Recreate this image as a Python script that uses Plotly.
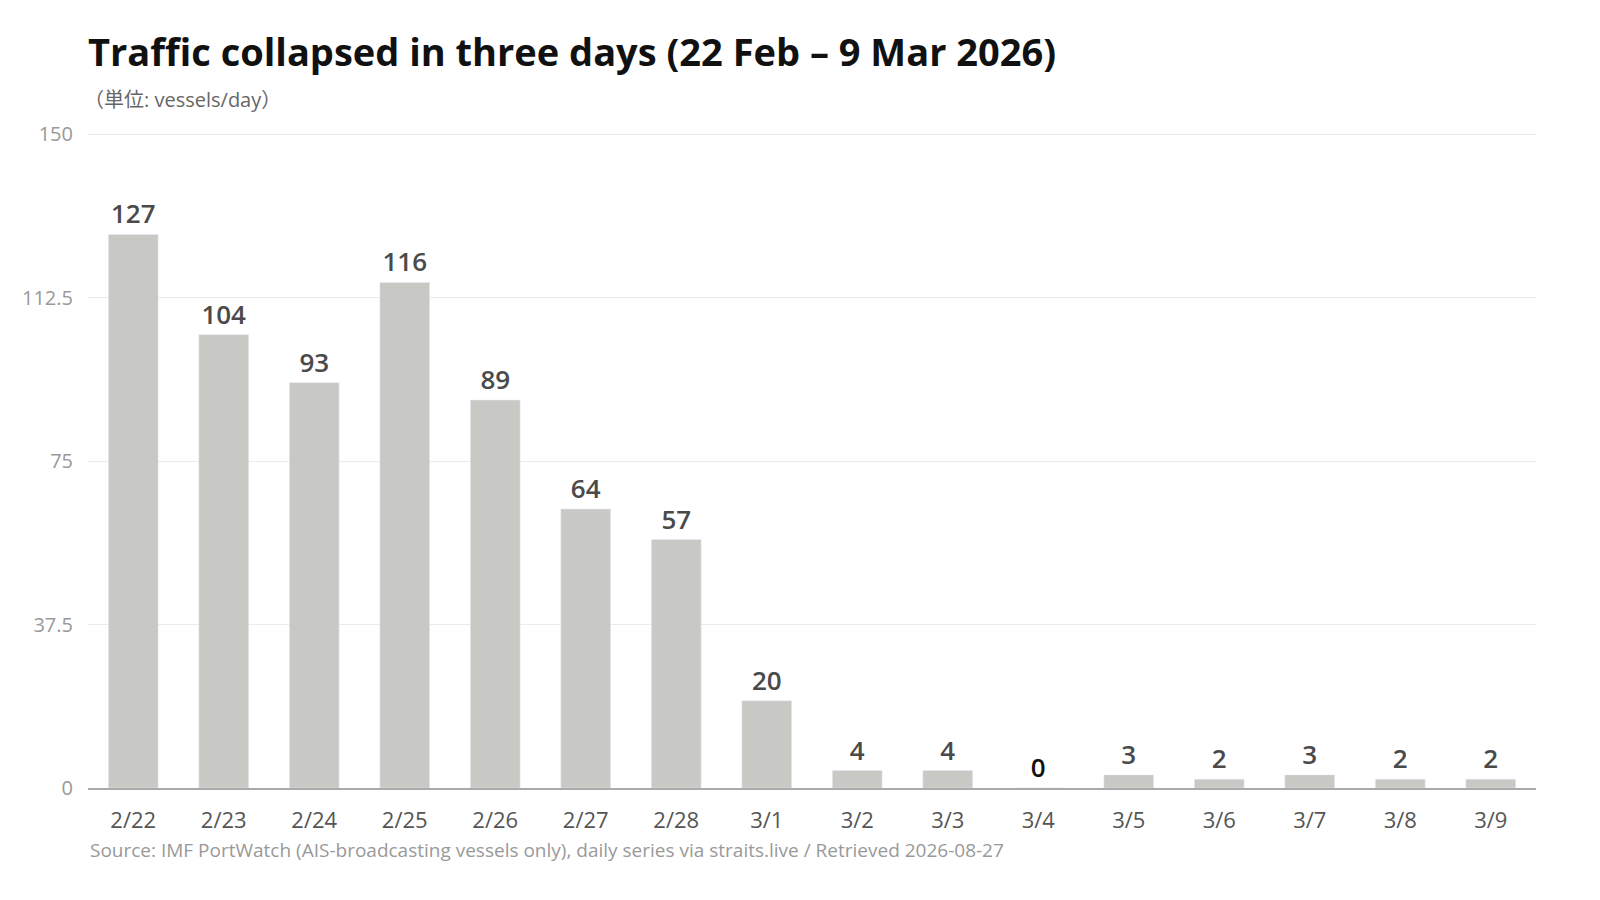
import plotly.graph_objects as go

dates = ["2/22","2/23","2/24","2/25","2/26","2/27","2/28","3/1","3/2","3/3","3/4","3/5","3/6","3/7","3/8","3/9"]
vessels = [127,104,93,116,89,64,57,20,4,4,0,3,2,3,2,2]
yticks = [0, 37.5, 75, 112.5, 150]
FONT = "Open Sans, Noto Sans CJK JP"

fig = go.Figure(go.Bar(
    x=dates, y=vessels, text=[str(v) for v in vessels], textposition="outside",
    marker=dict(color="#c8c8c4"), width=0.55, cliponaxis=False,
    textfont=dict(size=26, weight=600, color=["#111" if v == 0 else "#4a4a4a" for v in vessels], family=FONT),
))
fig.update_layout(
    width=1600, height=900, plot_bgcolor="white", paper_bgcolor="white",
    margin=dict(l=80, r=72, t=124, b=120),
    font=dict(family=FONT, color="#888"),
    showlegend=False,
    title=dict(text="<b>Traffic collapsed in three days (22 Feb – 9 Mar 2026)</b>", x=0, xref="paper",
               y=1-45/900, yanchor="middle", font=dict(size=38, color="#111", family=FONT)),
    annotations=[
        dict(text="（単位: vessels/day）", x=0, y=(780-92)/656, xref="paper", yref="paper",
             xanchor="left", yanchor="middle", showarrow=False, font=dict(size=20, color="#666"), xshift=-6),
        dict(text="Source: IMF PortWatch (AIS-broadcasting vessels only), daily series via straits.live / Retrieved 2026-08-27",
             x=0, y=-(842-780)/656, xref="paper", yref="paper", xanchor="left", yanchor="middle",
             showarrow=False, font=dict(size=19, color="#999")),
    ],
)
fig.update_xaxes(showgrid=False, showline=True, linecolor="#aaa", linewidth=1.5,
                 tickfont=dict(size=22, color="#555"), ticks="", ticklabelstandoff=12)
fig.update_yaxes(range=[0, 150.5], tickvals=yticks, ticktext=["0","37.5","75","112.5","150"],
                 gridcolor="#ebebeb", zeroline=False, tickfont=dict(size=20, color="#999"),
                 ticklabelstandoff=14)
fig.write_html("out.html")
